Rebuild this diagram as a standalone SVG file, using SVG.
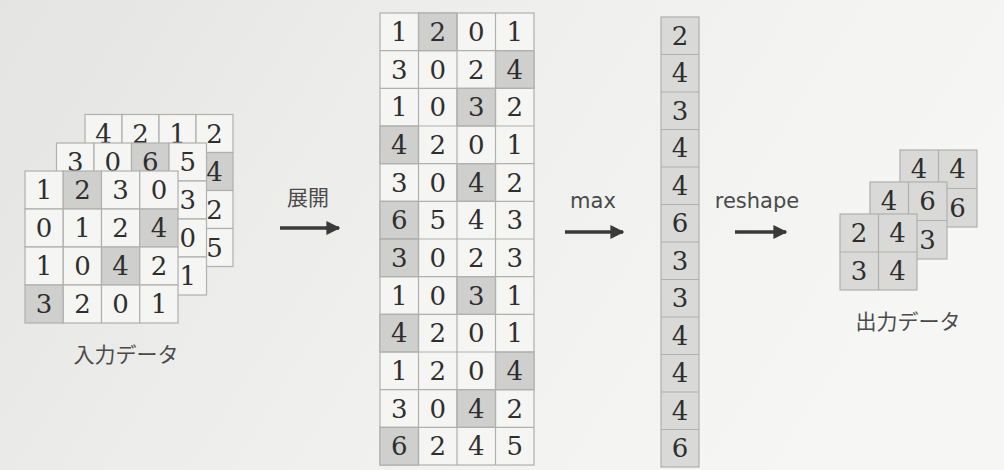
<svg xmlns="http://www.w3.org/2000/svg" width="1004" height="470" viewBox="0 0 1004 470">
<defs>
<linearGradient id="bg" x1="0" y1="0" x2="1" y2="0.3">
<stop offset="0" stop-color="#e4e4e2"/>
<stop offset="0.5" stop-color="#efefed"/>
<stop offset="1" stop-color="#f6f6f5"/>
</linearGradient>
<marker id="ah" viewBox="0 0 10 10" refX="9" refY="5" markerWidth="4" markerHeight="4" orient="auto" markerUnits="strokeWidth">
<path d="M0,0 L10,5 L0,10 z" fill="#3a3a3a"/>
</marker>
</defs>
<style>
.cell{fill:#f5f5f3;stroke:#b0b0ae;stroke-width:1.2}
.dark{fill:#cfcfcd;stroke:#b0b0ae;stroke-width:1.2}
.gray{fill:#d9d9d7;stroke:#b0b0ae;stroke-width:1.2}
.n{font-family:'DejaVu Serif','Liberation Serif','Times New Roman',serif;font-size:26px;fill:#2e2e2e;text-anchor:middle}
.lbl{font-family:'Noto Sans CJK JP','Noto Sans',sans-serif;font-size:21px;fill:#4a4a4a;text-anchor:middle}
.op{font-family:'DejaVu Sans','Liberation Sans',sans-serif;font-size:21px;fill:#4a4a4a;text-anchor:middle}
.arr{stroke:#3a3a3a;stroke-width:3.5;fill:none;marker-end:url(#ah)}
</style>
<rect width="1004" height="470" fill="url(#bg)"/>

<g id="input-data">
<g id="input-ch3">
<rect class="cell" x="85" y="114.5" width="37" height="38"/>
<rect class="cell" x="122" y="114.5" width="37" height="38"/>
<rect class="cell" x="159" y="114.5" width="37" height="38"/>
<rect class="cell" x="196" y="114.5" width="37" height="38"/>
<rect class="dark" x="196" y="152.5" width="37" height="38"/>
<rect class="cell" x="196" y="190.5" width="37" height="38"/>
<rect class="cell" x="196" y="228.5" width="37" height="38"/>
<text class="n" x="103.5" y="142.5">4</text>
<text class="n" x="140.5" y="142.5">2</text>
<text class="n" x="177.5" y="142.5">1</text>
<text class="n" x="214.5" y="142.5">2</text>
<text class="n" x="214.5" y="180.5">4</text>
<text class="n" x="214.5" y="218.5">2</text>
<text class="n" x="214.5" y="256.5">5</text>
</g>
<g id="input-ch2">
<rect class="cell" x="56.5" y="143" width="37.5" height="38"/>
<rect class="cell" x="94" y="143" width="37.5" height="38"/>
<rect class="dark" x="131.5" y="143" width="37.5" height="38"/>
<rect class="cell" x="169" y="143" width="37.5" height="38"/>
<rect class="cell" x="169" y="181" width="37.5" height="38"/>
<rect class="cell" x="169" y="219" width="37.5" height="38"/>
<rect class="cell" x="169" y="257" width="37.5" height="38"/>
<rect class="cell" x="56.5" y="181" width="112.5" height="114"/>
<text class="n" x="75.25" y="171">3</text>
<text class="n" x="112.75" y="171">0</text>
<text class="n" x="150.25" y="171">6</text>
<text class="n" x="187.75" y="171">5</text>
<text class="n" x="187.75" y="209">3</text>
<text class="n" x="187.75" y="247">0</text>
<text class="n" x="187.75" y="285">1</text>
</g>
<g id="input-ch1">
<rect class="cell" x="25" y="171" width="38.25" height="38"/>
<rect class="dark" x="63.25" y="171" width="38.25" height="38"/>
<rect class="cell" x="101.5" y="171" width="38.25" height="38"/>
<rect class="cell" x="139.75" y="171" width="38.25" height="38"/>
<rect class="cell" x="25" y="209" width="38.25" height="38"/>
<rect class="cell" x="63.25" y="209" width="38.25" height="38"/>
<rect class="cell" x="101.5" y="209" width="38.25" height="38"/>
<rect class="dark" x="139.75" y="209" width="38.25" height="38"/>
<rect class="cell" x="25" y="247" width="38.25" height="38"/>
<rect class="cell" x="63.25" y="247" width="38.25" height="38"/>
<rect class="dark" x="101.5" y="247" width="38.25" height="38"/>
<rect class="cell" x="139.75" y="247" width="38.25" height="38"/>
<rect class="dark" x="25" y="285" width="38.25" height="38"/>
<rect class="cell" x="63.25" y="285" width="38.25" height="38"/>
<rect class="cell" x="101.5" y="285" width="38.25" height="38"/>
<rect class="cell" x="139.75" y="285" width="38.25" height="38"/>
<text class="n" x="44.1" y="199">1</text>
<text class="n" x="82.4" y="199">2</text>
<text class="n" x="120.6" y="199">3</text>
<text class="n" x="158.9" y="199">0</text>
<text class="n" x="44.1" y="237">0</text>
<text class="n" x="82.4" y="237">1</text>
<text class="n" x="120.6" y="237">2</text>
<text class="n" x="158.9" y="237">4</text>
<text class="n" x="44.1" y="275">1</text>
<text class="n" x="82.4" y="275">0</text>
<text class="n" x="120.6" y="275">4</text>
<text class="n" x="158.9" y="275">2</text>
<text class="n" x="44.1" y="313">3</text>
<text class="n" x="82.4" y="313">2</text>
<text class="n" x="120.6" y="313">0</text>
<text class="n" x="158.9" y="313">1</text>
</g>
<text class="lbl" x="126" y="362">入力データ</text>
</g>

<g id="expanded">
<rect class="cell" x="380" y="13" width="154" height="452"/>
<rect class="dark" x="418.5" y="13" width="38.5" height="37.67"/>
<rect class="dark" x="495.5" y="50.67" width="38.5" height="37.67"/>
<rect class="dark" x="457" y="88.33" width="38.5" height="37.67"/>
<rect class="dark" x="380" y="126" width="38.5" height="37.67"/>
<rect class="dark" x="457" y="163.67" width="38.5" height="37.67"/>
<rect class="dark" x="380" y="201.33" width="38.5" height="37.67"/>
<rect class="dark" x="380" y="239" width="38.5" height="37.67"/>
<rect class="dark" x="457" y="276.67" width="38.5" height="37.67"/>
<rect class="dark" x="380" y="314.33" width="38.5" height="37.67"/>
<rect class="dark" x="495.5" y="352" width="38.5" height="37.67"/>
<rect class="dark" x="457" y="389.67" width="38.5" height="37.67"/>
<rect class="dark" x="380" y="427.33" width="38.5" height="37.67"/>
<path d="M418.5,13V465M457,13V465M495.5,13V465M380,50.67H534M380,88.33H534M380,126H534M380,163.67H534M380,201.33H534M380,239H534M380,276.67H534M380,314.33H534M380,352H534M380,389.67H534M380,427.33H534" stroke="#b0b0ae" stroke-width="1.2" fill="none"/>
<text class="n" x="399.25" y="40.8">1</text><text class="n" x="437.75" y="40.8">2</text><text class="n" x="476.25" y="40.8">0</text><text class="n" x="514.75" y="40.8">1</text>
<text class="n" x="399.25" y="78.5">3</text><text class="n" x="437.75" y="78.5">0</text><text class="n" x="476.25" y="78.5">2</text><text class="n" x="514.75" y="78.5">4</text>
<text class="n" x="399.25" y="116.2">1</text><text class="n" x="437.75" y="116.2">0</text><text class="n" x="476.25" y="116.2">3</text><text class="n" x="514.75" y="116.2">2</text>
<text class="n" x="399.25" y="153.8">4</text><text class="n" x="437.75" y="153.8">2</text><text class="n" x="476.25" y="153.8">0</text><text class="n" x="514.75" y="153.8">1</text>
<text class="n" x="399.25" y="191.5">3</text><text class="n" x="437.75" y="191.5">0</text><text class="n" x="476.25" y="191.5">4</text><text class="n" x="514.75" y="191.5">2</text>
<text class="n" x="399.25" y="229.2">6</text><text class="n" x="437.75" y="229.2">5</text><text class="n" x="476.25" y="229.2">4</text><text class="n" x="514.75" y="229.2">3</text>
<text class="n" x="399.25" y="266.8">3</text><text class="n" x="437.75" y="266.8">0</text><text class="n" x="476.25" y="266.8">2</text><text class="n" x="514.75" y="266.8">3</text>
<text class="n" x="399.25" y="304.5">1</text><text class="n" x="437.75" y="304.5">0</text><text class="n" x="476.25" y="304.5">3</text><text class="n" x="514.75" y="304.5">1</text>
<text class="n" x="399.25" y="342.2">4</text><text class="n" x="437.75" y="342.2">2</text><text class="n" x="476.25" y="342.2">0</text><text class="n" x="514.75" y="342.2">1</text>
<text class="n" x="399.25" y="379.8">1</text><text class="n" x="437.75" y="379.8">2</text><text class="n" x="476.25" y="379.8">0</text><text class="n" x="514.75" y="379.8">4</text>
<text class="n" x="399.25" y="417.5">3</text><text class="n" x="437.75" y="417.5">0</text><text class="n" x="476.25" y="417.5">4</text><text class="n" x="514.75" y="417.5">2</text>
<text class="n" x="399.25" y="455.2">6</text><text class="n" x="437.75" y="455.2">2</text><text class="n" x="476.25" y="455.2">4</text><text class="n" x="514.75" y="455.2">5</text>
</g>

<g id="max-column">
<rect class="gray" x="661" y="17" width="38" height="450"/>
<path d="M661,54.5H699M661,92H699M661,129.5H699M661,167H699M661,204.5H699M661,242H699M661,279.5H699M661,317H699M661,354.5H699M661,392H699M661,429.5H699" stroke="#b0b0ae" stroke-width="1.2" fill="none"/>
<text class="n" x="680" y="44.75">2</text>
<text class="n" x="680" y="82.25">4</text>
<text class="n" x="680" y="119.75">3</text>
<text class="n" x="680" y="157.25">4</text>
<text class="n" x="680" y="194.75">4</text>
<text class="n" x="680" y="232.25">6</text>
<text class="n" x="680" y="269.75">3</text>
<text class="n" x="680" y="307.25">3</text>
<text class="n" x="680" y="344.75">4</text>
<text class="n" x="680" y="382.25">4</text>
<text class="n" x="680" y="419.75">4</text>
<text class="n" x="680" y="457.25">6</text>
</g>

<g id="output-data">
<g id="output-ch3">
<rect class="gray" x="900" y="150" width="77" height="77"/>
<path d="M938.5,150V227M900,188.5H977" stroke="#b0b0ae" stroke-width="1.2"/>
<text class="n" x="919" y="178">4</text>
<text class="n" x="957.5" y="178">4</text>
<text class="n" x="957.5" y="216.5">6</text>
</g>
<g id="output-ch2">
<rect class="gray" x="870" y="182" width="77" height="77"/>
<path d="M908.5,182V259M870,220.5H947" stroke="#b0b0ae" stroke-width="1.2"/>
<text class="n" x="889" y="210">4</text>
<text class="n" x="927.5" y="210">6</text>
<text class="n" x="927.5" y="248.5">3</text>
</g>
<g id="output-ch1">
<rect class="gray" x="840" y="214" width="77" height="76"/>
<path d="M878.5,214V290M840,252H917" stroke="#b0b0ae" stroke-width="1.2"/>
<text class="n" x="859" y="242">2</text>
<text class="n" x="897.5" y="242">4</text>
<text class="n" x="859" y="280">3</text>
<text class="n" x="897.5" y="280">4</text>
</g>
<text class="lbl" x="908" y="329">出力データ</text>
</g>

<g id="connectors">
<text class="lbl" x="308" y="205">展開</text>
<line class="arr" x1="280" y1="228" x2="339" y2="228"/>
<text class="op" x="593" y="208">max</text>
<line class="arr" x1="565" y1="232" x2="623" y2="232"/>
<text class="op" x="757" y="208">reshape</text>
<line class="arr" x1="735" y1="232" x2="786" y2="232"/>
</g>
</svg>
